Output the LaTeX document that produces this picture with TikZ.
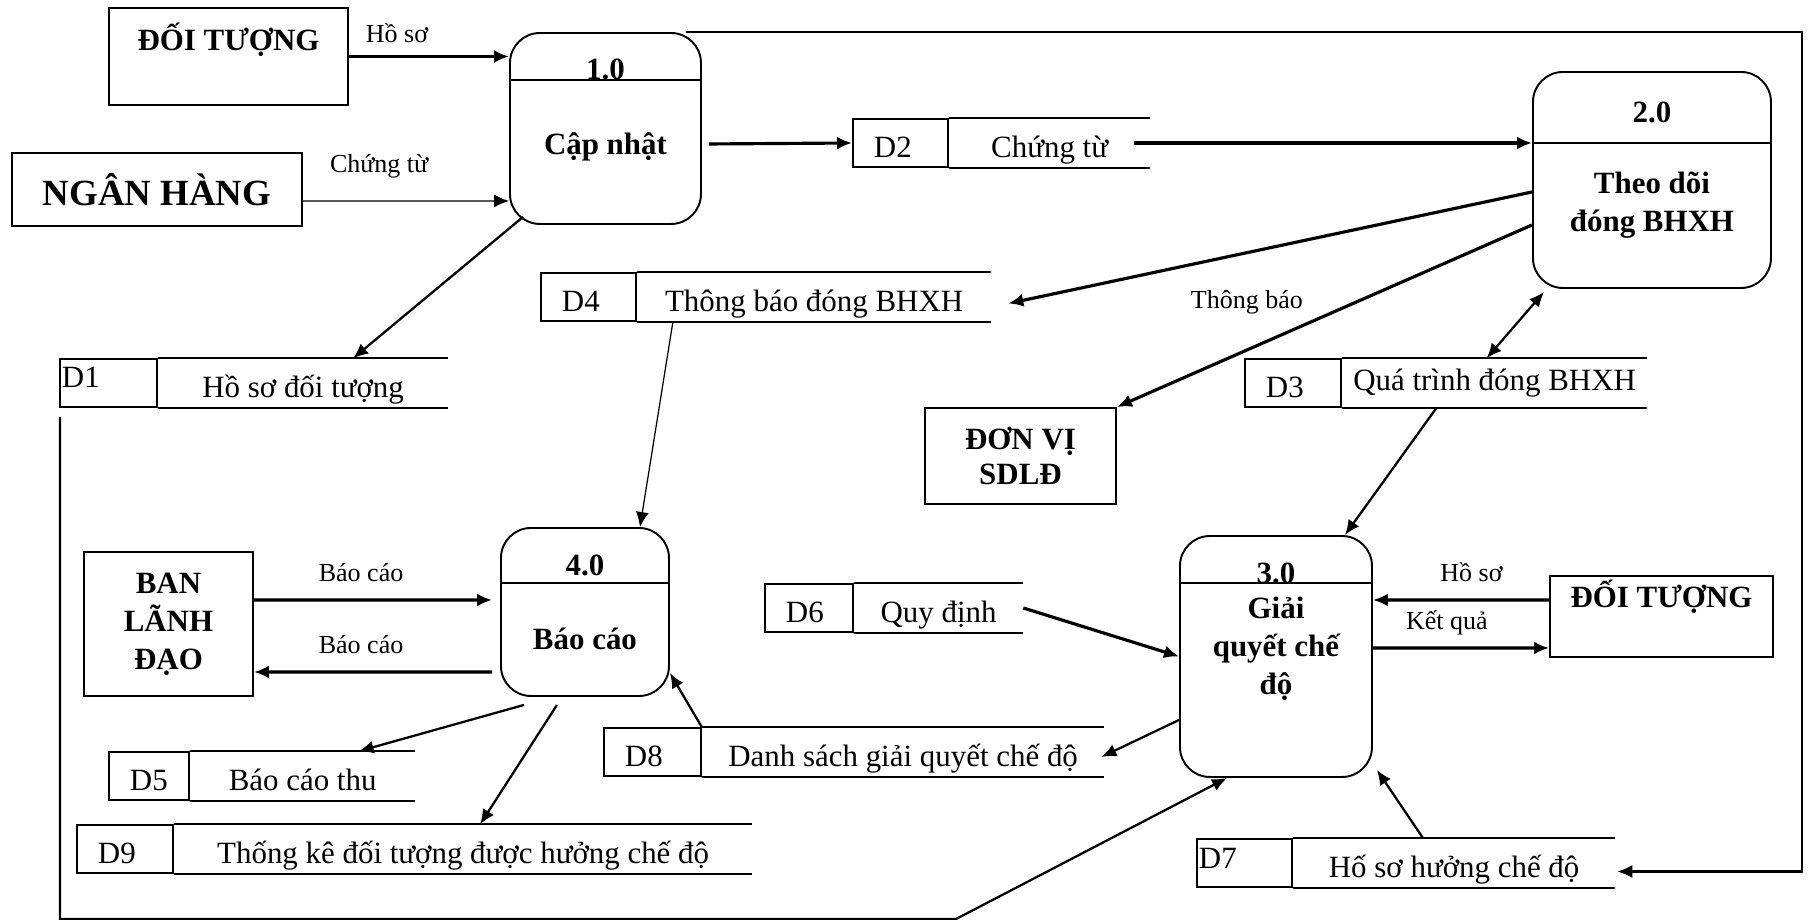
\documentclass[tikz,border=0pt]{standalone}
\usepackage{fontspec}
\setmainfont{Liberation Serif}
\usetikzlibrary{arrows.meta, positioning}

\begin{document}
\begin{tikzpicture}[x=0.1mm, y=-0.1mm, >={Latex[length=1.5mm, width=1.3mm]},
        entity/.style={rectangle, draw, line width=0.55pt, inner sep=0pt, align=center, font=\fontsize{8.8}{10.8}\selectfont\bfseries},
        process/.style={rectangle, draw, line width=0.55pt, rounded corners=3mm, inner sep=0pt},
        proctext/.style={align=center, font=\fontsize{8.8}{10.8}\selectfont\bfseries},
        storeid/.style={rectangle, draw, line width=0.55pt, anchor=north west, inner xsep=2.1mm, inner ysep=0pt, align=left, text height=3.9mm, text depth=0.9mm, font=\fontsize{8.8}{10.8}\selectfont},
        storename/.style={rectangle, inner sep=0pt, text height=3.9mm, text depth=0.9mm, font=\fontsize{8.8}{10.8}\selectfont},
        flowlabel/.style={font=\fontsize{7.4}{9}\selectfont},
        flow/.style={->, line width=0.9pt},
        medflow/.style={->, line width=0.65pt},
        thinflow/.style={->, line width=0.35pt}]
        \useasboundingbox (0,0) rectangle (1808,919);

        % external entities
        \node[entity, anchor=north west, minimum width=23.9mm, text height=4.3mm, text depth=5.4mm] (doituong) at (108,7) {ĐỐI TƯỢNG};
        \node[entity, anchor=north west, minimum width=29mm, minimum height=7.3mm, font=\fontsize{10.5}{12}\selectfont\bfseries] (nganhang) at (11,152) {NGÂN HÀNG};
        \node[entity, anchor=north west, minimum width=19.1mm, minimum height=9.6mm, font=\fontsize{8.8}{9.7}\selectfont\bfseries] (donvi) at (924,407) {ĐƠN VỊ\\SDLĐ};
        \node[entity, anchor=north west, minimum width=16.9mm, minimum height=14.4mm] (banld) at (83,551) {BAN\\LÃNH\\ĐẠO};
        \node[entity, anchor=north west, minimum width=22.3mm, text height=3.2mm, text depth=4.9mm] (doituong2) at (1549,575) {ĐỐI TƯỢNG};

        % processes
        \node[process, anchor=north west, minimum width=19.1mm, minimum height=19.1mm] (p1) at (509,32) {};
        \node[process, anchor=north west, minimum width=23.8mm, minimum height=21.6mm] (p2) at (1532,71) {};
        \node[process, anchor=north west, minimum width=19.2mm, minimum height=24.1mm] (p3) at (1179,535) {};
        \node[process, anchor=north west, minimum width=16.8mm, minimum height=16.8mm] (p4) at (500,527) {};
        \foreach \p/\d in {p1/48, p2/72, p3/48, p4/56}
            \draw[line width=0.55pt] ([shift={(0,\d)}]\p.north west) -- ([shift={(0,\d)}]\p.north east);

        \node[proctext] (p1num) at ([shift={(0,37)}]p1.north) {1.0};
        \node[proctext] (p1txt) at ([shift={(0,18)}]p1.center) {Cập nhật};
        \node[proctext] (p2num) at ([shift={(0,41)}]p2.north) {2.0};
        \node[proctext] (p2txt) at ([shift={(0,25)}]p2.center) {Theo dõi\\đóng BHXH};
        \node[proctext] (p3num) at ([shift={(0,38)}]p3.north) {3.0};
        \node[proctext] (p3txt) at ([shift={(0,-8)}]p3.center) {Giải\\quyết chế\\độ};
        \node[proctext] (p4num) at ([shift={(0,38)}]p4.north) {4.0};
        \node[proctext] (p4txt) at ([shift={(0,27)}]p4.center) {Báo cáo};

        % data stores
        \node[storeid, inner xsep=0.2mm, text width=9.3mm, text height=2.9mm, text depth=1.9mm] (d1id) at (59,358) {D1};
        \node[storename, minimum width=28.9mm, right=0pt of d1id] (d1) {Hồ sơ đối tượng};
        \node[storeid, text width=5.3mm] (d2id) at (852,118) {D2};
        \node[storename, minimum width=20mm, right=0pt of d2id] (d2) {Chứng từ};
        \node[storeid, text width=5.4mm] (d3id) at (1244,358) {D3};
        \node[storename, minimum width=30.4mm, text height=3.2mm, text depth=1.6mm, right=0pt of d3id] (d3) {Quá trình đóng BHXH};
        \node[storeid, text width=5.3mm] (d4id) at (540,272) {D4};
        \node[storename, minimum width=35.3mm, right=0pt of d4id] (d4) {Thông báo đóng BHXH};
        \node[storeid, text width=3.8mm] (d5id) at (108,751) {D5};
        \node[storename, minimum width=22.4mm, right=0pt of d5id] (d5) {Báo cáo thu};
        \node[storeid, text width=4.6mm] (d6id) at (764,583) {D6};
        \node[storename, minimum width=16.8mm, right=0pt of d6id] (d6) {Quy định};
        \node[storeid, inner xsep=0.2mm, text width=9.1mm, text height=3mm, text depth=1.8mm] (d7id) at (1196,838) {D7};
        \node[storename, minimum width=32.1mm, right=0pt of d7id] (d7) {Hố sơ hưởng chế độ};
        \node[storeid, text width=5.5mm] (d8id) at (603,727) {D8};
        \node[storename, minimum width=40.1mm, right=0pt of d8id] (d8) {Danh sách giải quyết chế độ};
        \node[storeid, text width=5.4mm] (d9id) at (76,824) {D9};
        \node[storename, minimum width=57.7mm, right=0pt of d9id] (d9) {Thống kê đối tượng được hưởng chế độ};
        \foreach \s in {d1,d2,d3,d4,d5,d6,d7,d8,d9}
            \draw[line width=0.55pt] (\s.north west) -- (\s.north east) (\s.south west) -- (\s.south east);

        % flows
        \draw[flow] (doituong.east) -- (p1.west |- doituong.east) node[flowlabel, pos=0.3, above] {Hồ sơ};
        \draw[thinflow] ([shift={(0,11.5)}]nganhang.east) -- ([shift={(0,72.5)}]p1.west) node[flowlabel, pos=0.37, above=1.1mm] {Chứng từ};
        \draw[flow] ([shift={(7,15.5)}]p1.east) -- (d2id.west);
        \draw[flow] ([shift={(-16,0)}]d2.east) -- (p2.west |- d2.east);
        \draw[flow] ([shift={(0,12)}]p2.west) -- ([shift={(17,6.5)}]d4.east);
        \draw[flow] ([shift={(0,45)}]p2.west) -- (donvi.north east) node[flowlabel, pos=0.52, anchor=east, yshift=1.7mm] {Thông báo};
        \draw[medflow, <->] ([shift={(-8,0)}]d3.north) -- ([shift={(12,3)}]p2.south west);
        \draw[medflow] ([shift={(-58,0)}]d3.south) -- ([shift={(69,0)}]p3.north);
        \draw[medflow] ([shift={(14,-8)}]p1.south west) -- ([shift={(50,0)}]d1.north);
        \draw[thinflow] ([shift={(36,0)}]d4.south west) -- ([shift={(55,0)}]p4.north);

        \draw[flow] ([shift={(0,-24)}]banld.east) -- ([shift={(-8,-12)}]p4.west) node[flowlabel, pos=0.45, above=0.5mm] {Báo cáo};
        \draw[flow] ([shift={(-8,60)}]p4.west) -- ([shift={(0,48)}]banld.east) node[flowlabel, pos=0.55, above=0.5mm] {Báo cáo};
        \draw[medflow] ([shift={(-61,8)}]p4.south) -- ([shift={(56,0)}]d5.north);
        \draw[medflow] ([shift={(-28,8)}]p4.south) -- ([shift={(17,0)}]d9.north);
        \draw[medflow] (d8.north west) -- ([shift={(0,61)}]p4.east);

        \draw[flow] (d6.east) -- (p3.west);
        \draw[medflow] ([shift={(0,63.5)}]p3.west) -- ([shift={(-3,5)}]d8.east);
        \draw[flow] ([shift={(0,-16.5)}]doituong2.west) -- ([shift={(0,-56.5)}]p3.east) node[flowlabel, pos=0.44, above=0.5mm] {Hồ sơ};
        \draw[flow] ([shift={(0,-8.5)}]p3.east) -- ([shift={(0,31.5)}]doituong2.west) node[flowlabel, pos=0.42, above] {Kết quả};
        \draw[medflow] ([shift={(-31,0)}]d7.north) -- ([shift={(4,-8)}]p3.south east);

        \coordinate (bottombend) at (956,919);
        \draw[medflow] ([shift={(1,9)}]d1id.south west) |- (bottombend) -- ([shift={(-49,0)}]p3.south);
        \coordinate (topbend) at (1802,32);
        \draw[medflow] ([shift={(-16,0)}]p1.north east) -- (topbend) |- ([shift={(2,8.5)}]d7.east);
    \end{tikzpicture}
\end{document}
